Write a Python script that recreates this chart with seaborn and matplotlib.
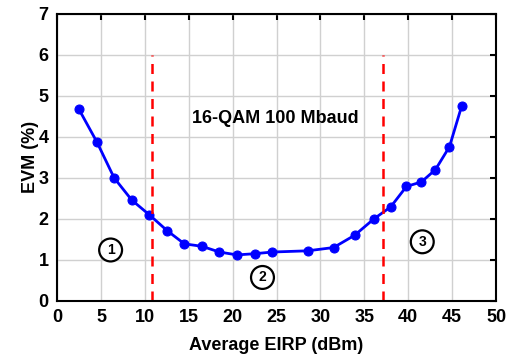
import pandas as pd
import seaborn as sns
import matplotlib.pyplot as plt

# EVM vs average EIRP, 16-QAM 100 Mbaud
eirp = [2.5, 4.55, 6.5, 8.5, 10.5, 12.55, 14.5, 16.5, 18.5, 20.5, 22.55, 24.5,
        28.55, 31.5, 33.9, 36.1, 38.0, 39.8, 41.5, 43.1, 44.7, 46.1]
evm = [4.67, 3.87, 3.0, 2.46, 2.10, 1.71, 1.39, 1.33, 1.19, 1.12, 1.15, 1.19,
       1.22, 1.30, 1.60, 2.0, 2.29, 2.79, 2.90, 3.20, 3.76, 4.76]
boundaries = [10.85, 37.1]
regions = ["1", "2", "3"]
region_xy = [(6.1, 1.24), (23.4, 0.57), (41.6, 1.44)]

df = pd.DataFrame({"eirp": eirp, "evm": evm})

sns.set_style("white")
plt.rcParams["font.family"] = ["Liberation Sans", "DejaVu Sans"]
plt.rcParams["font.weight"] = "bold"
plt.rcParams["text.color"] = "black"
plt.rcParams["axes.labelcolor"] = "black"
plt.rcParams["xtick.color"] = "black"
plt.rcParams["ytick.color"] = "black"

fig = plt.figure(figsize=(5.14, 3.56), dpi=100)
ax = fig.add_axes([0.111, 0.155, 0.854, 0.806])

sns.lineplot(data=df, x="eirp", y="evm", ax=ax, color="#0000ff", linewidth=2,
             marker="o", markersize=6.5, markeredgecolor="#0000ff")

for b in boundaries:
    ax.plot([b, b], [0, 6], color="#ff0000", linestyle=(0, (4, 3)), linewidth=1.8)

ax.text(24.9, 4.44, "16-QAM 100 Mbaud", ha="center", va="center",
        fontsize=13, fontweight="bold")
for lab, (x, y) in zip(regions, region_xy):
    ax.text(x, y, lab, ha="center", va="center", fontsize=10, fontweight="bold",
            bbox=dict(boxstyle="circle,pad=0.32", fc="white", ec="black", lw=1.6))

ax.set_xlim(0, 50)
ax.set_ylim(0, 7)
ax.set_xticks(range(0, 51, 5))
ax.set_yticks(range(0, 8))
ax.grid(True, color="#d0d0d0", linewidth=1)
ax.tick_params(direction="in", length=4, width=1.5, top=True, right=True,
               labelsize=13, pad=6)
for lbl in ax.get_xticklabels() + ax.get_yticklabels():
    lbl.set_fontweight("bold")
for s in ax.spines.values():
    s.set_linewidth(1.5)
    s.set_color("black")

ax.set_xlabel("Average EIRP (dBm)", fontsize=13, fontweight="bold", labelpad=8)
ax.set_ylabel("EVM (%)", fontsize=13, fontweight="bold", labelpad=0)

fig.savefig("out.png", dpi=100)
